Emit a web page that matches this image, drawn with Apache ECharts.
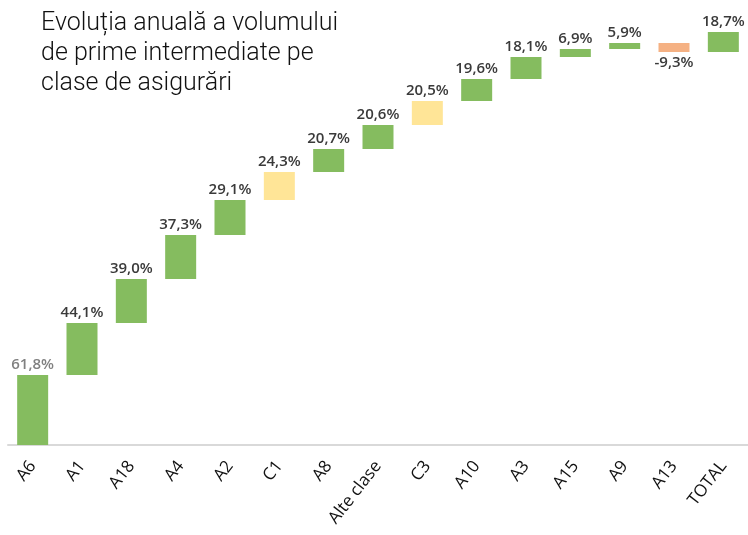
<!DOCTYPE html>
<html>
<head>
<meta charset="utf-8">
<script src="https://cdn.jsdelivr.net/npm/echarts@6/dist/echarts.min.js"></script>
<style>
  html, body { margin: 0; padding: 0; background: #fff; }
  #chart { width: 748px; height: 535px; }
</style>
</head>
<body>
<div id="chart"></div>
<script>
// clase de asigurari
const categories = ['A6', 'A1', 'A18', 'A4', 'A2', 'C1', 'A8', 'Alte clase', 'C3', 'A10', 'A3', 'A15', 'A9', 'A13', 'TOTAL'];
// contributia fiecarei clase (unitati estimate din imagine)
const increments = [70, 52, 44, 44, 35, 28, 23, 24, 24, 22, 22, 8, 6, -9, 20];
// evolutia anuala, %
const growth = [61.8, 44.1, 39.0, 37.3, 29.1, 24.3, 20.7, 20.6, 20.5, 19.6, 18.1, 6.9, 5.9, -9.3, 18.7];

const GREEN = '#85BC5F', YELLOW = '#FFE597', ORANGE = '#F5B183';

// waterfall: baza invizibila + bara vizibila
let cum = 0;
const baseData = [], barData = [];
increments.forEach((d, i) => {
  const start = cum, end = cum + d;
  cum = end;
  baseData.push(Math.min(start, end));
  let color = GREEN;
  if (growth[i] < 0) color = ORANGE;
  else if (categories[i].charAt(0) === 'C') color = YELLOW;
  barData.push({
    value: Math.abs(d),
    itemStyle: { color: color },
    label: {
      position: growth[i] < 0 ? 'bottom' : 'top',
      color: i === 0 ? '#808080' : '#3a3a3a'
    }
  });
});

const chart = echarts.init(document.getElementById('chart'));
chart.setOption({
  animation: false,
  title: {
    text: 'Evoluția anuală a volumului\nde prime intermediate pe\nclase de asigurări',
    left: 36,
    top: 4,
    textStyle: { fontFamily: 'Roboto', fontWeight: 300, fontSize: 25, lineHeight: 30, color: '#111' }
  },
  grid: { left: 8, right: 0, top: 0, bottom: 90, containLabel: false },
  xAxis: {
    type: 'category',
    data: categories,
    axisLine: { lineStyle: { color: '#D9D9D9', width: 2 } },
    axisTick: { show: false },
    axisLabel: {
      rotate: 52,
      interval: 0,
      margin: 18,
      fontFamily: 'Open Sans',
      fontSize: 17,
      color: '#111'
    }
  },
  yAxis: { type: 'value', min: 0, max: 445, show: false, splitLine: { show: false } },
  series: [
    {
      type: 'bar', stack: 'w', data: baseData, barWidth: 31,
      itemStyle: { color: 'transparent' }, silent: true
    },
    {
      type: 'bar', stack: 'w', data: barData, barWidth: 31,
      label: {
        show: true,
        distance: 3,
        fontFamily: 'Open Sans',
        fontWeight: 600,
        fontSize: 15,
        formatter: p => growth[p.dataIndex].toFixed(1).replace('.', ',') + '%'
      }
    }
  ]
});
</script>
</body>
</html>
